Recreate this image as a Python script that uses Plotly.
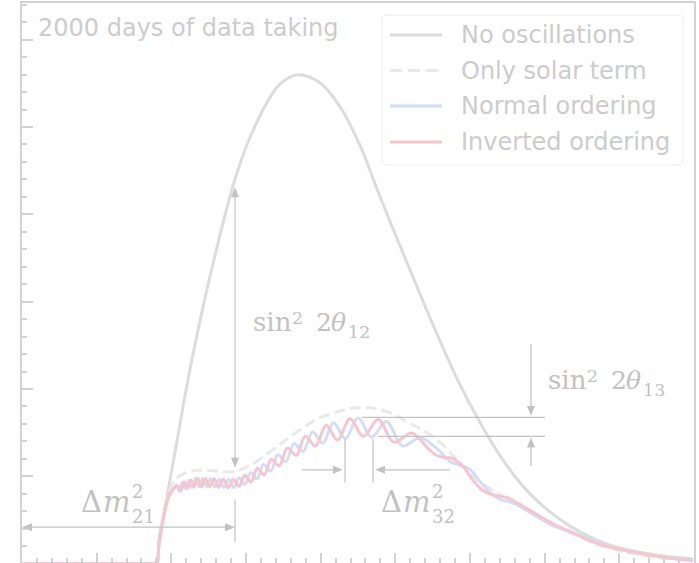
import math
import plotly.graph_objects as go

# Reactor antineutrino spectrum (energy in MeV, events in arbitrary units)
e_noosc = [0.0, 1.79, 1.808, 1.835, 1.888, 1.955, 2.089, 2.223, 2.384, 2.585, 2.813,
           2.920, 3.053, 3.281, 3.455, 3.683, 3.991, 4.259, 4.527, 4.754, 5.062,
           5.330, 5.558, 5.866, 6.268, 6.602, 6.937, 7.339, 7.834, 8.410, 8.986]
n_noosc = [0, 0, 0, 0.28, 0.52, 0.83, 1.468, 2.108, 2.78, 3.53, 4.29,
           4.58, 4.88, 5.28, 5.49, 5.597, 5.506, 5.232, 4.790, 4.290, 3.640,
           3.090, 2.630, 2.050, 1.420, 0.999, 0.690, 0.430, 0.225, 0.110, 0.055]

e_solar = [0.0, 1.79, 1.808, 1.835, 1.888, 1.955, 2.036, 2.143, 2.317, 2.518, 2.719,
           2.853, 3.053, 3.254, 3.455, 3.589, 3.790, 3.991, 4.192, 4.393, 4.553,
           4.728, 4.928, 5.156, 5.397, 5.598, 5.799, 6.040, 6.402, 6.709, 7.071,
           7.299, 7.741, 8.276, 8.986]
n_solar = [0, 0, 0, 0.221, 0.507, 0.770, 0.941, 1.021, 1.067, 1.067, 1.056,
           1.056, 1.124, 1.239, 1.365, 1.456, 1.570, 1.673, 1.730, 1.776, 1.788,
           1.776, 1.730, 1.627, 1.513, 1.388, 1.216, 0.999, 0.793, 0.645, 0.473,
           0.37, 0.21, 0.10, 0.035]

e_normal = [0.0, 1.79, 1.808, 1.835, 1.888, 1.955, 2.030,
            2.072, 2.109, 2.149, 2.190, 2.232, 2.276, 2.322, 2.370, 2.420, 2.472,
            2.526, 2.583, 2.642, 2.704, 2.769, 2.837, 2.909, 2.984, 3.063, 3.147,
            3.236, 3.329, 3.428, 3.533, 3.645, 3.764, 3.892, 4.028, 4.174, 4.331,
            4.500, 4.683, 4.881, 5.097, 5.333,
            5.598, 5.732, 5.879, 6.000, 6.134, 6.268, 6.402, 6.562, 6.736, 6.937,
            7.138, 7.406, 7.741, 8.009, 8.276, 8.611, 8.986]
n_normal = [0, 0, 0, 0.22, 0.50, 0.74, 0.86,
            0.90, 0.827, 0.930, 0.857, 0.951, 0.872, 0.976, 0.880, 0.976, 0.880,
            0.976, 0.878, 0.970, 0.872, 0.966, 0.871, 0.984, 0.908, 1.045, 0.972,
            1.137, 1.061, 1.247, 1.170, 1.375, 1.283, 1.508, 1.380, 1.613, 1.433,
            1.668, 1.450, 1.628, 1.348, 1.443,
            1.285, 1.170, 1.124, 1.079, 0.941, 0.816, 0.736, 0.701, 0.621, 0.518,
            0.427, 0.346, 0.233, 0.164, 0.118, 0.072, 0.038]

e_inverted = [0.0, 1.79, 1.808, 1.835, 1.888, 1.955, 2.030,
              2.089, 2.130, 2.172, 2.215, 2.259, 2.306, 2.355, 2.405, 2.458, 2.514,
              2.572, 2.632, 2.696, 2.762, 2.833, 2.906, 2.984, 3.066, 3.152, 3.244,
              3.341, 3.444, 3.554, 3.671, 3.795, 3.929, 4.072, 4.226, 4.393, 4.572,
              4.768, 4.980, 5.213, 5.330, 5.437, 5.558, 5.665, 5.772, 5.906, 6.053,
              6.174, 6.335, 6.495, 6.669, 6.937, 7.151, 7.339, 7.540, 7.741, 8.009,
              8.276, 8.611, 8.986]
n_inverted = [0, 0, 0, 0.22, 0.50, 0.74, 0.86,
              0.884, 0.839, 0.937, 0.863, 0.957, 0.879, 0.976, 0.880, 0.976, 0.880,
              0.974, 0.875, 0.967, 0.871, 0.966, 0.886, 1.012, 0.933, 1.092, 1.017,
              1.197, 1.121, 1.325, 1.239, 1.463, 1.346, 1.586, 1.416, 1.661, 1.456,
              1.652, 1.391, 1.496, 1.422, 1.319, 1.239, 1.216, 1.204, 1.113, 0.941,
              0.838, 0.781, 0.758, 0.678, 0.541, 0.438, 0.369, 0.289, 0.221, 0.164,
              0.118, 0.072, 0.038]

series_names = ["No oscillations", "Only solar term", "Normal ordering", "Inverted ordering"]
title_text = "2000 days of data taking"

C_NOOSC = "#dcdcdc"
C_SOLAR = "#e9e9e9"
C_NO = "#d4dcf6"
C_IO = "#f6c6cf"
C_TEXT = "#cccccc"
C_ANN = "#c2c2c2"
C_AXIS = "#d2d2d2"

W, H = 699, 563
ML, MR, MT, MB = 22, 5, 3, 0
PW, PH = W - ML - MR, H - MT - MB
X_RANGE = [0, 9]
Y_RANGE = [0.008, 6.42]
SX = PW / (X_RANGE[1] - X_RANGE[0])   # pixels per MeV
SY = PH / (Y_RANGE[1] - Y_RANGE[0])   # pixels per unit


def paper(px, py):
    """Convert a page pixel position into paper coordinates."""
    return (px - ML) / PW, (H - MB - py) / PH


fig = go.Figure()
styles = [
    (e_noosc, n_noosc, C_NOOSC, "solid"),
    (e_solar, n_solar, C_SOLAR, "11px,5px"),
    (e_normal, n_normal, C_NO, "solid"),
    (e_inverted, n_inverted, C_IO, "solid"),
]
for (ex, ny, col, dash), name in zip(styles, series_names):
    fig.add_trace(go.Scatter(
        x=ex, y=ny, mode="lines", name=name, showlegend=False,
        line=dict(color=col, width=3, dash=dash, shape="spline", smoothing=1.0),
        hoverinfo="skip"))

shapes = []
annotations = []

# legend box with rounded corners
x0, y0, x1, y1, r = 382, 15, 683, 165, 5
pts = [("M", x0 + r, y0), ("L", x1 - r, y0), ("Q", x1, y0, x1, y0 + r),
       ("L", x1, y1 - r), ("Q", x1, y1, x1 - r, y1), ("L", x0 + r, y1),
       ("Q", x0, y1, x0, y1 - r), ("L", x0, y0 + r), ("Q", x0, y0, x0 + r, y0)]
path = ""
for p in pts:
    cmd, coords = p[0], p[1:]
    segs = []
    for i in range(0, len(coords), 2):
        u, v = paper(coords[i], coords[i + 1])
        segs.append(f"{u:.5f},{v:.5f}")
    path += cmd + " ".join(segs) + " "
path += "Z"
shapes.append(dict(type="path", path=path, xref="paper", yref="paper",
                   line=dict(color="#ededed", width=1), fillcolor="white", layer="above"))

legend_rows = [35, 70.5, 106, 142]
for (ex, ny, col, dash), name, ly in zip(styles, series_names, legend_rows):
    ax0, ay0 = paper(390, ly)
    ax1, _ = paper(442, ly)
    shapes.append(dict(type="line", xref="paper", yref="paper", x0=ax0, x1=ax1, y0=ay0, y1=ay0,
                       line=dict(color=col, width=3, dash="12px,6px" if dash != "solid" else "solid"),
                       layer="above"))
    tx, ty = paper(459, ly)
    annotations.append(dict(text=name, x=tx, y=ty, xref="paper", yref="paper",
                            xanchor="left", yanchor="middle", showarrow=False,
                            font=dict(family="DejaVu Sans", size=24, color=C_TEXT)))

tx, ty = paper(36, 28)
annotations.append(dict(text=title_text, x=tx, y=ty, xref="paper", yref="paper",
                        xanchor="left", yanchor="middle", showarrow=False,
                        font=dict(family="DejaVu Sans", size=24, color=C_TEXT)))


def seg(xa, ya, xb, yb):
    return dict(type="line", xref="x", yref="y", x0=xa, y0=ya, x1=xb, y1=yb,
                line=dict(color=C_ANN, width=1.2))


def arrow(xt, yt, xh, yh, both=False, head_len=10.0, head_half=4.0):
    """Arrow from tail (xt, yt) to head (xh, yh) in data units, heads sized in pixels."""
    dx, dy = (xh - xt) * SX, (yh - yt) * SY
    n = math.hypot(dx, dy)
    ux, uy = dx / n, dy / n
    out = []
    tips = [(xh, yh, ux, uy)]
    if both:
        tips.append((xt, yt, -ux, -uy))
    trim = head_len - 2
    sx0 = xt + (ux * trim if both else 0) / SX
    sy0 = yt + (uy * trim if both else 0) / SY
    sx1 = xh - ux * trim / SX
    sy1 = yh - uy * trim / SY
    out.append(seg(sx0, sy0, sx1, sy1))
    for tx_, ty_, vx, vy in tips:
        bx, by = -vx * head_len, -vy * head_len
        nx, ny = -vy * head_half, vx * head_half
        p1 = (tx_ + (bx + nx) / SX, ty_ + (by + ny) / SY)
        p2 = (tx_ + (bx - nx) / SX, ty_ + (by - ny) / SY)
        out.append(dict(type="path", xref="x", yref="y",
                        path=f"M{tx_},{ty_} L{p1[0]},{p1[1]} L{p2[0]},{p2[1]} Z",
                        fillcolor=C_ANN, line=dict(width=0)))
    return out


# solar mixing angle: depth of the slow dip
shapes += arrow(2.853, 1.10, 2.853, 4.31, both=True)
shapes.append(seg(2.853, 0.246, 2.853, 0.738))
# solar mass splitting: position of the slow dip
shapes += arrow(0.0, 0.418, 2.853, 0.418, both=True)
# atmospheric mass splitting: period of the fast wiggles
shapes += arrow(3.750, 1.075, 4.299, 1.075)
shapes += arrow(5.732, 1.075, 4.727, 1.075)
shapes.append(seg(4.326, 0.93, 4.326, 1.43))
shapes.append(seg(4.701, 0.93, 4.701, 1.43))
# reactor mixing angle: amplitude of the fast wiggles
shapes.append(seg(4.553, 1.676, 7.004, 1.676))
shapes.append(seg(4.768, 1.459, 7.004, 1.459))
shapes += arrow(6.817, 2.517, 6.817, 1.69)
shapes += arrow(6.817, 1.116, 6.817, 1.445)

SERIF = "DejaVu Serif"


def glyphs(txt, px, py, size, italic=False):
    u, v = paper(px, py)
    return dict(text=txt, x=u, y=v, xref="paper", yref="paper", xanchor="left",
                yanchor="middle", showarrow=False,
                font=dict(family=SERIF, size=size, color=C_ANN,
                          style="italic" if italic else "normal"))


def mixing_label(px, base, sub):
    """sin^2 2theta_ij set piece by piece from its left edge and baseline."""
    return [
        glyphs("sin", px, base - 9.8, 26),
        glyphs("2", px + 38.5, base - 13.6, 17.5),
        glyphs("2", px + 62.5, base - 9.4, 25),
        glyphs("θ", px + 78, base - 9.4, 25, italic=True),
        glyphs(sub, px + 94.5, base + 0.4, 17.5),
    ]


def splitting_label(px, base, sub):
    """Delta m^2_ij with stacked super- and subscript."""
    return [
        glyphs("Δ", px, base - 11, 29),
        glyphs("m", px + 21.5, base - 11, 29, italic=True),
        glyphs("2", px + 51, base - 22, 18),
        glyphs(sub, px + 51, base + 3, 18),
    ]


annotations += mixing_label(251, 332, "12")
annotations += mixing_label(546, 390, "13")
annotations += splitting_label(79, 513, "21")
annotations += splitting_label(379, 513, "32")

axis_common = dict(showline=True, mirror=True, linecolor=C_AXIS, linewidth=2,
                   ticks="inside", tickcolor=C_AXIS, tickwidth=2,
                   showticklabels=False, showgrid=False, zeroline=False, tick0=0, dtick=1)
fig.update_layout(
    width=W, height=H, margin=dict(l=ML, r=MR, t=MT, b=MB),
    paper_bgcolor="white", plot_bgcolor="white", showlegend=False,
    xaxis=dict(range=X_RANGE, ticklen=10,
               minor=dict(ticks="inside", ticklen=5, tickwidth=1.5, tickcolor=C_AXIS, dtick=0.2),
               **axis_common),
    yaxis=dict(range=Y_RANGE, ticklen=11,
               minor=dict(ticks="inside", ticklen=5, tickwidth=1.5, tickcolor=C_AXIS, dtick=0.2),
               **axis_common),
    shapes=shapes, annotations=annotations,
)

fig.write_html("out.html")
